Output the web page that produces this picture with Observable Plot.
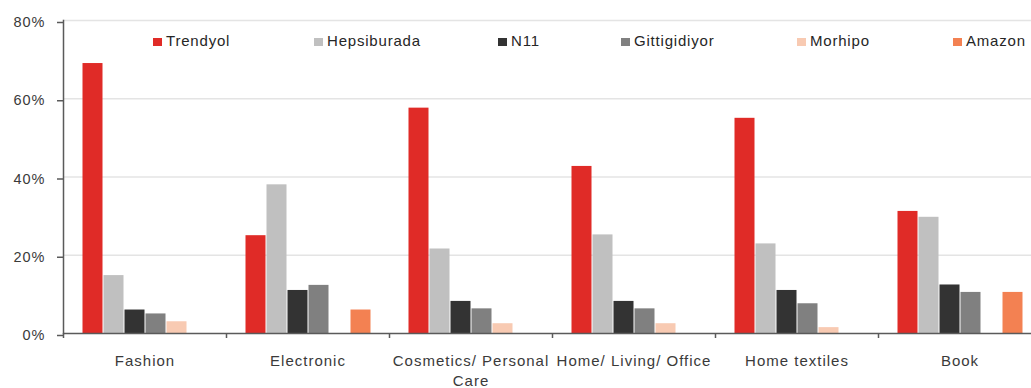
<!DOCTYPE html>
<html><head><meta charset="utf-8">
<script src="https://cdn.jsdelivr.net/npm/d3@7"></script>
<script src="https://cdn.jsdelivr.net/npm/@observablehq/plot@0.6"></script>
<style>
html,body{margin:0;padding:0;background:#fff;overflow:hidden;}
#wrap{position:relative;width:1031px;height:388px;overflow:hidden;font-family:"Liberation Sans",Arial,sans-serif;}
#chart svg text{letter-spacing:1px;}
#legend{position:absolute;top:32px;left:0;width:1031px;height:18px;}
.item{position:absolute;top:0;display:flex;align-items:center;font-size:15px;letter-spacing:0.8px;color:#262626;white-space:nowrap;line-height:18px;}
.sw{width:9px;height:8px;margin-right:4px;margin-top:2px;}
</style></head><body>
<div id="wrap"><div id="chart"></div><div id="legend"></div></div>
<script>
const categories = ["Fashion", "Electronic", "Cosmetics/ Personal\nCare", "Home/ Living/ Office", "Home textiles", "Book"];
const series = ["Trendyol", "Hepsiburada", "N11", "Gittigidiyor", "Morhipo", "Amazon"];
const trendyol     = [69, 25, 57.6, 42.7, 55, 31.2];
const hepsiburada  = [14.8, 38, 21.6, 25.2, 22.9, 29.7];
const n11          = [6, 11, 8.2, 8.2, 11, 12.4];
const gittigidiyor = [5, 12.3, 6.3, 6.3, 7.6, 10.5];
const morhipo      = [3, 0, 2.5, 2.5, 1.5, 0];
const amazon       = [0, 6, 0, 0, 0, 10.5];
const colors = ["#e02b27", "#c0c0c0", "#333333", "#808080", "#f8cab2", "#f38152"];
const yTicks = [0, 20, 40, 60, 80];
const legendLeft = [153, 314, 498, 621, 797, 953];

const valuesBySeries = [trendyol, hepsiburada, n11, gittigidiyor, morhipo, amazon];
const data = categories.flatMap((c, i) => series.map((s, j) => ({category: c, series: s, value: valuesBySeries[j][i]})));

const axisColor = "#5a5a5a";
const chart = Plot.plot({
  width: 1041, height: 388,
  marginLeft: 63, marginRight: 0, marginTop: 20, marginBottom: 55,
  style: {fontFamily: "'Liberation Sans', Arial, sans-serif", background: "white", maxWidth: "none", overflow: "visible"},
  fx: {domain: categories, padding: 0, label: null, axis: null},
  x: {domain: series, paddingInner: 0, paddingOuter: 0.79, axis: null},
  y: {domain: [0, 80], label: null, axis: null},
  color: {domain: series, range: colors},
  marks: [
    Plot.gridY(yTicks.slice(1), {stroke: "#e4e4e4", strokeOpacity: 1, strokeWidth: 1.5}),
    Plot.barY(data, {fx: "category", x: "series", y: "value", fill: "series", insetLeft: 0.5, insetRight: 0.5}),
    Plot.ruleY([0], {stroke: axisColor, strokeWidth: 1.5}),
    Plot.axisY(yTicks, {tickSize: 6, tickPadding: 12, tickFormat: d => d + "%", fontSize: 14.5, stroke: axisColor, strokeWidth: 1.5, fill: "#3a3a3a", dy: 2}),
    Plot.frame({anchor: "left", facetAnchor: "left", stroke: axisColor, strokeWidth: 1.5}),
    Plot.axisFx({anchor: "bottom", tickSize: 5, tickFormat: () => "", dx: -81.5, stroke: axisColor, strokeWidth: 1.5, label: null}),
    Plot.text(categories, {fx: d => d, text: d => d, frameAnchor: "bottom", lineAnchor: "top", dy: 18, fontSize: 15, lineHeight: 1.35, fill: "#3a3a3a"})
  ]
});
document.getElementById("chart").appendChild(chart);

const legend = document.getElementById("legend");
series.forEach((s, i) => {
  const item = document.createElement("div");
  item.className = "item";
  item.style.left = legendLeft[i] + "px";
  const sw = document.createElement("span");
  sw.className = "sw";
  sw.style.background = colors[i];
  const label = document.createElement("span");
  label.textContent = s;
  item.appendChild(sw);
  item.appendChild(label);
  legend.appendChild(item);
});
</script>
</body></html>
